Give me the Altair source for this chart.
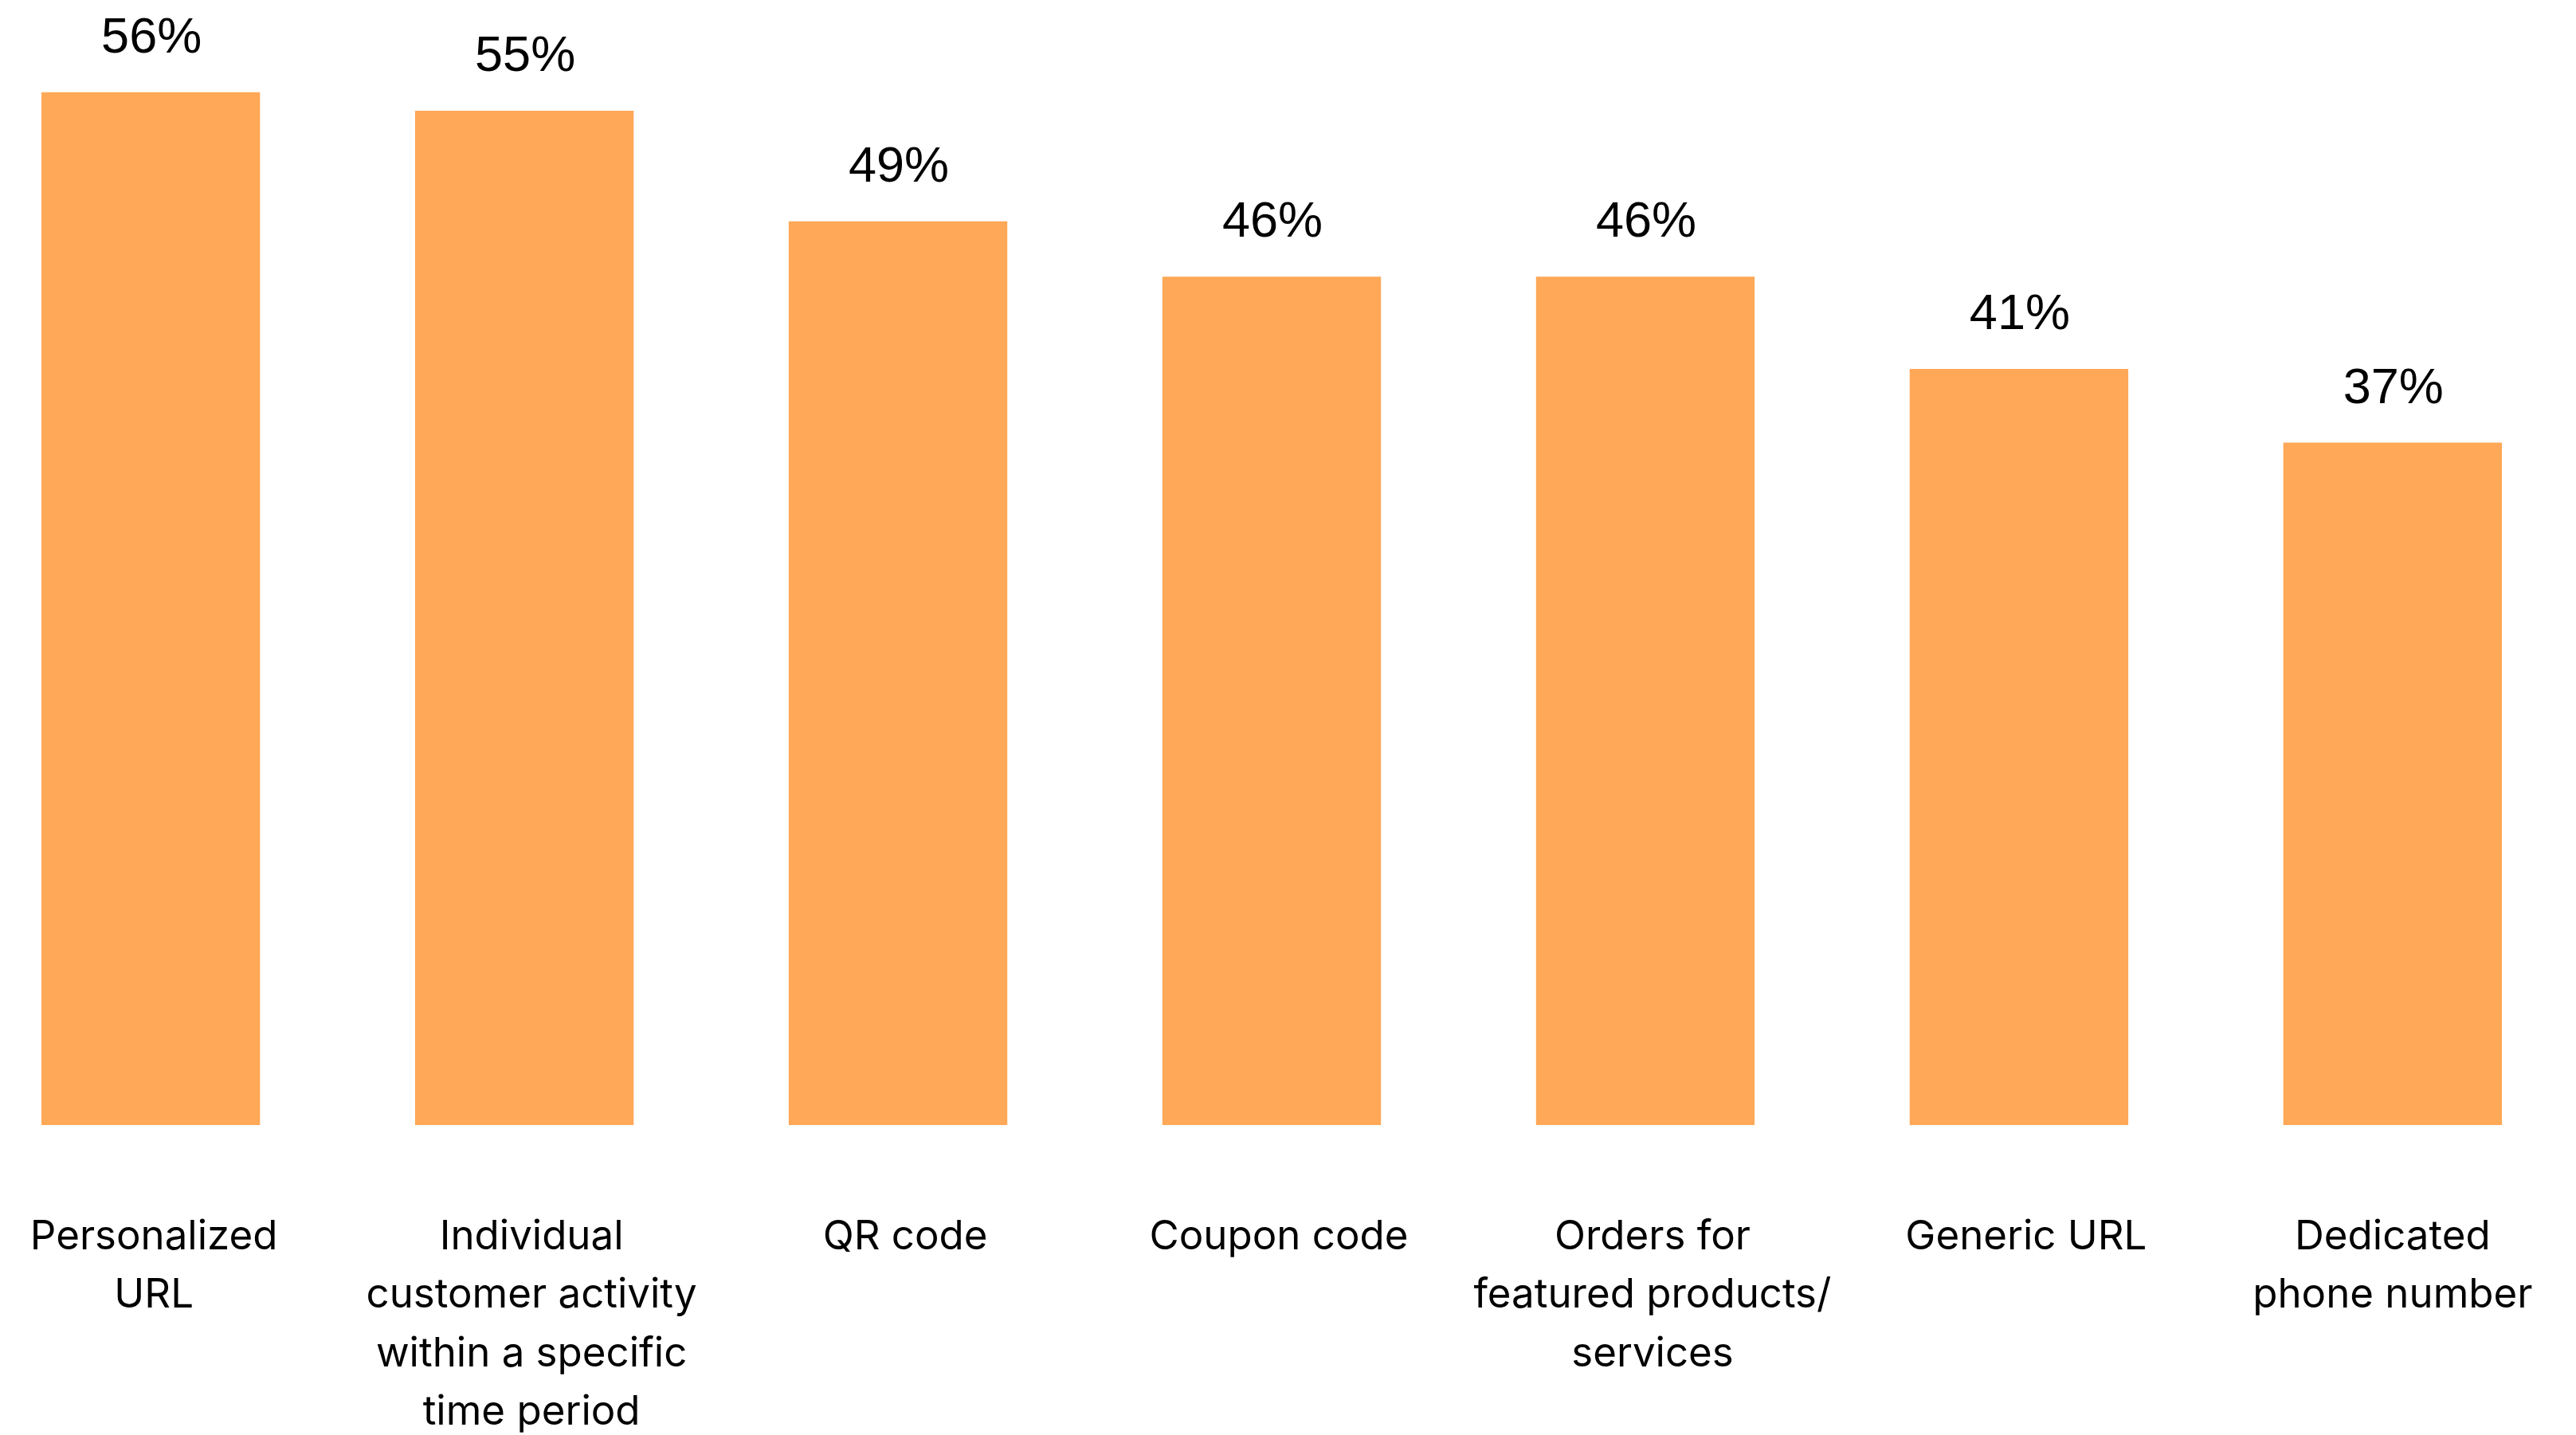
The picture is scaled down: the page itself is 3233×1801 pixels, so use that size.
import altair as alt
import pandas as pd

categories = [
    "Personalized\nURL",
    "Individual\ncustomer activity\nwithin a specific\ntime period",
    "QR code",
    "Coupon code",
    "Orders for\nfeatured products/\nservices",
    "Generic URL",
    "Dedicated\nphone number",
]
values = [56, 55, 49, 46, 46, 41, 37]
value_labels = ["56%", "55%", "49%", "46%", "46%", "41%", "37%"]

df = pd.DataFrame({"category": categories, "value": values, "label": value_labels})

label_offset = {
    "condition": [
        {"test": "datum.value == 'Personalized\\nURL'", "value": 4},
        {"test": "datum.value == 'Dedicated\\nphone number'", "value": 0},
    ],
    "value": 9,
}

x_enc = alt.X(
    "category:N",
    sort=categories,
    scale=alt.Scale(paddingInner=0.415, paddingOuter=0),
    axis=alt.Axis(
        title=None,
        domain=False,
        ticks=False,
        tickSize=0,
        labelAngle=0,
        labelPadding=115,
        labelOffset=label_offset,
        labelFont="Inter",
        labelFontSize=51,
        labelColor="#000000",
        labelLineHeight=73.5,
        labelLimit=0,
        labelExpr="split(datum.label, '\\n')",
    ),
)
y_enc = alt.Y(
    "value:Q",
    scale=alt.Scale(domain=[0, 61], nice=False, zero=True),
    axis=None,
)

bars = alt.Chart(df).mark_bar(color="#FFA857").encode(x=x_enc, y=y_enc)
texts = alt.Chart(df).mark_text(
    baseline="alphabetic",
    align="center",
    dy=-50,
    dx=1,
    font="Liberation Sans",
    fontSize=63,
    color="#000000",
).encode(x=alt.X("category:N", sort=categories), y="value:Q", text="label:N")

chart = (
    alt.layer(bars, texts)
    .properties(
        width=3088,
        height=1412,
        autosize=alt.AutoSizeParams(type="none"),
        padding={"left": 52, "top": 0, "right": 93, "bottom": 389},
        background="#ffffff",
    )
    .configure_view(stroke=None)
)

chart.save("out.html", embed_options={"renderer": "svg", "actions": False})
